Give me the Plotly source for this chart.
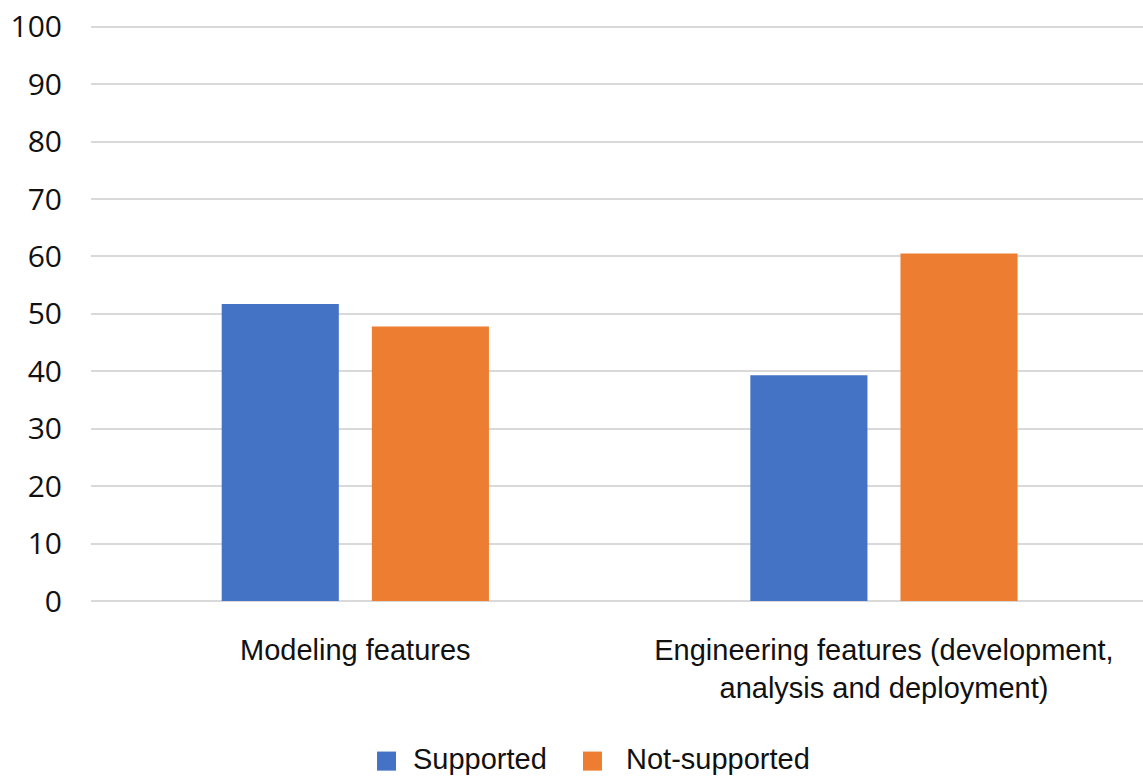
import plotly.graph_objects as go

categories = ["Modeling features",
              "Engineering features (development,<br>analysis and deployment)"]
supported = [51.7, 39.3]
not_supported = [47.8, 60.5]
y_ticks = [0, 10, 20, 30, 40, 50, 60, 70, 80, 90, 100]
series_names = ["Supported", "Not-supported"]

BLUE = "#4472C4"
ORANGE = "#ED7D31"
TEXT = "#111111"
LABEL_FONT = "Arial, Liberation Sans, sans-serif"

fig = go.Figure()
fig.add_trace(go.Bar(x=categories, y=supported, name=series_names[0],
                     marker=dict(color=BLUE, line=dict(width=0)), showlegend=False))
fig.add_trace(go.Bar(x=categories, y=not_supported, name=series_names[1],
                     marker=dict(color=ORANGE, line=dict(width=0)), showlegend=False))

# Legend drawn below the plot: square swatch followed by the series name
legend_items = [(series_names[0], BLUE, 0.2719, 0.3042),
                (series_names[1], ORANGE, 0.4677, 0.5067)]
shapes, annotations = [], []
for name, color, x_box, x_text in legend_items:
    shapes.append(dict(type="rect", xref="paper", yref="paper",
                       x0=x_box, x1=x_box + 0.0180, y0=-0.2945, y1=-0.2614,
                       fillcolor=color, line=dict(width=0)))
    annotations.append(dict(text=name, xref="paper", yref="paper",
                            x=x_text, y=-0.2735, xanchor="left", yanchor="middle",
                            showarrow=False,
                            font=dict(family=LABEL_FONT, size=29, color=TEXT)))

fig.update_layout(
    width=1143, height=776,
    margin=dict(l=91, r=0, t=25, b=175),
    paper_bgcolor="white", plot_bgcolor="white",
    barmode="group", bargap=0.432, bargroupgap=0.22,
    showlegend=False,
    shapes=shapes, annotations=annotations,
    hovermode=False,
)
fig.update_xaxes(range=[-0.5, 1.49], showgrid=False, showline=False, zeroline=False,
                 ticks="", ticklabelstandoff=29,
                 tickfont=dict(family=LABEL_FONT, size=29, color=TEXT))
fig.update_yaxes(range=[0, 100.3], tickvals=y_ticks, showgrid=True, gridcolor="#D9D9D9",
                 gridwidth=1.5, zeroline=True, zerolinecolor="#D9D9D9", zerolinewidth=1.5,
                 showline=False, ticks="", ticklabelstandoff=28,
                 tickfont=dict(family="Open Sans, sans-serif", size=30, color=TEXT))

fig.write_html("out.html")
